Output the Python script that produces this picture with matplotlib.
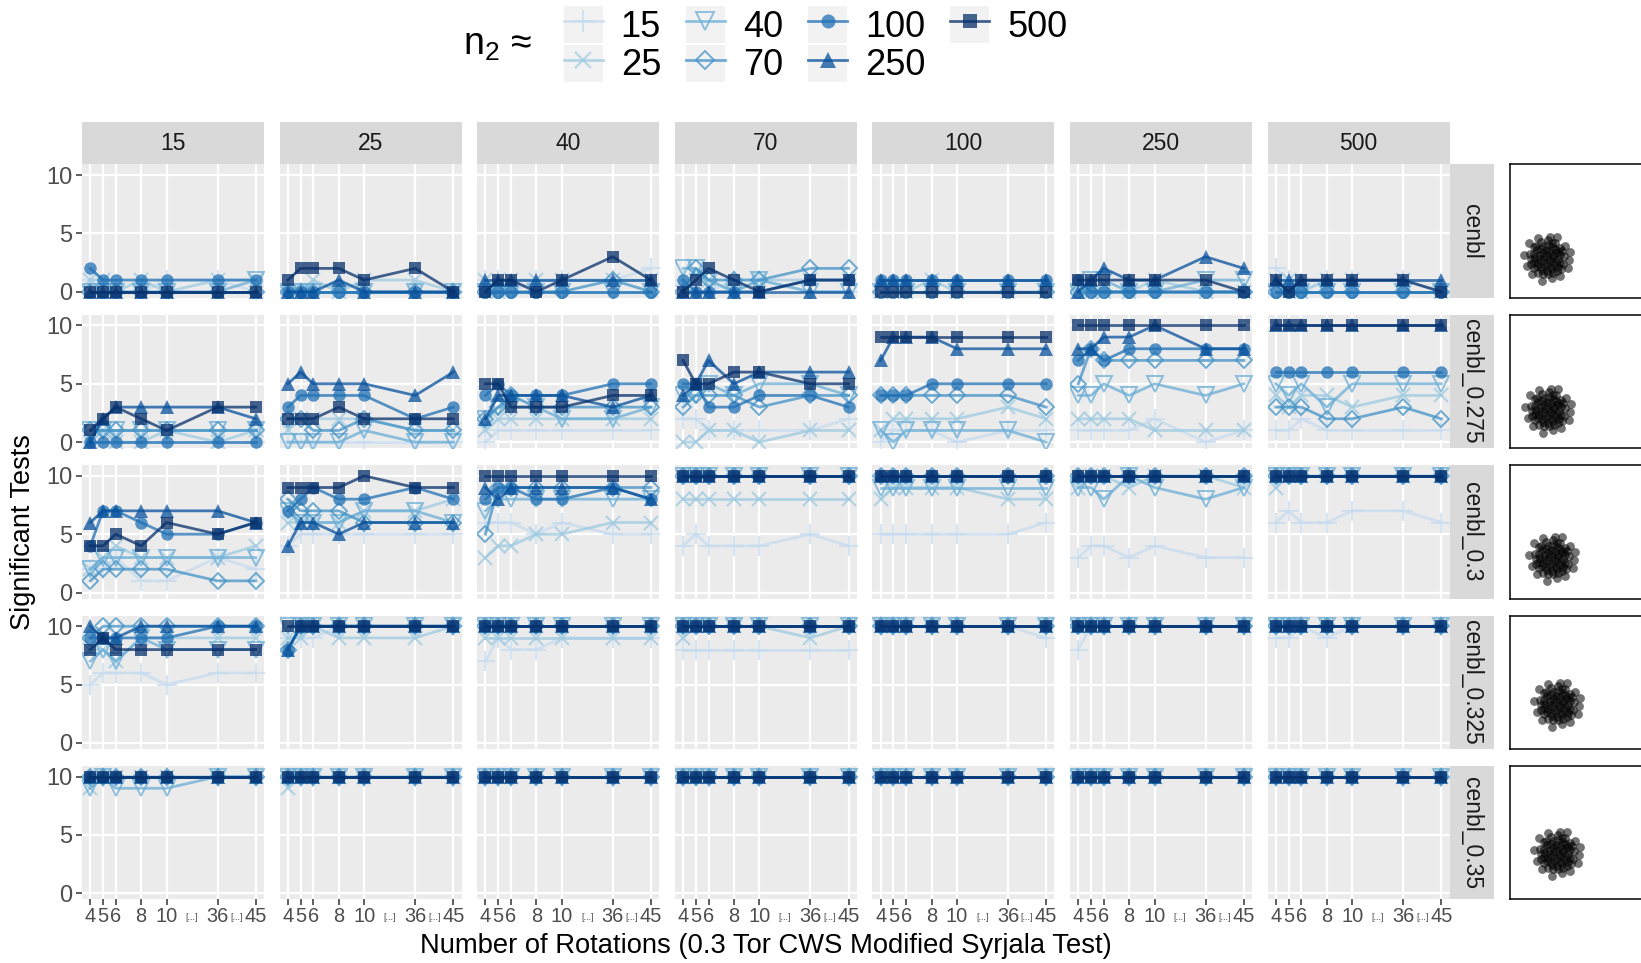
import matplotlib
matplotlib.use('Agg')
import matplotlib.pyplot as plt
from matplotlib.lines import Line2D
from matplotlib.patches import Rectangle
from matplotlib.legend_handler import HandlerLine2D

plt.rcParams['font.family'] = ['Liberation Sans', 'DejaVu Sans']

# ---- data ----
rotations = [4, 5, 6, 8, 10, 36, 45]
n2_levels = ['15', '25', '40', '70', '100', '250', '500']
scenarios = ['cenbl', 'cenbl_0.275', 'cenbl_0.3', 'cenbl_0.325', 'cenbl_0.35']

# one panel = 7 series (n2 = 15 ... 500), each over the 7 rotation counts
cenbl_n15 = [[1, 0, 0, 0, 1, 1, 0], [1, 1, 0, 1, 0, 1, 1], [0, 0, 0, 0, 0, 0, 1], [0, 0, 0, 0, 0, 0, 0],
             [2, 1, 1, 1, 1, 1, 1], [0, 0, 0, 0, 0, 0, 0], [0, 0, 0, 0, 0, 0, 0]]
cenbl_n25 = [[0, 0, 0, 0, 0, 0, 0], [0, 0, 1, 0, 1, 1, 0], [0, 0, 0, 0, 0, 0, 0], [0, 0, 0, 0, 0, 0, 0],
             [0, 0, 0, 0, 0, 0, 0], [0, 0, 0, 1, 0, 0, 0], [1, 2, 2, 2, 1, 2, 0]]
cenbl_n40 = [[1, 1, 0, 1, 1, 1, 2], [1, 0, 1, 1, 1, 1, 1], [0, 0, 0, 0, 0, 0, 0], [0, 0, 0, 0, 0, 1, 0],
             [0, 0, 0, 0, 0, 0, 0], [1, 1, 1, 1, 1, 1, 1], [0, 1, 1, 0, 1, 3, 1]]
cenbl_n70 = [[1, 0, 0, 1, 1, 0, 0], [0, 1, 1, 0, 1, 1, 1], [2, 2, 1, 0, 1, 0, 0], [0, 2, 1, 1, 1, 2, 2],
             [1, 0, 0, 0, 0, 1, 1], [0, 0, 0, 0, 0, 0, 0], [0, 1, 2, 1, 0, 1, 1]]
cenbl_n100 = [[0, 0, 0, 0, 0, 0, 0], [0, 0, 0, 1, 0, 0, 0], [0, 0, 0, 0, 0, 0, 0], [0, 0, 0, 0, 0, 0, 0],
              [1, 1, 1, 1, 1, 1, 1], [1, 1, 1, 1, 1, 1, 1], [0, 0, 0, 0, 0, 0, 0]]
cenbl_n250 = [[0, 0, 0, 0, 0, 0, 0], [0, 0, 0, 0, 1, 0, 0], [0, 1, 1, 0, 0, 1, 1], [0, 0, 0, 0, 0, 0, 0],
              [1, 0, 0, 0, 0, 0, 0], [0, 1, 2, 1, 1, 3, 2], [1, 1, 1, 1, 1, 1, 0]]
cenbl_n500 = [[2, 1, 0, 1, 1, 1, 0], [1, 1, 0, 1, 1, 1, 0], [0, 0, 0, 0, 0, 0, 0], [0, 0, 0, 0, 0, 0, 0],
              [0, 0, 0, 0, 0, 0, 0], [1, 1, 1, 1, 1, 1, 1], [1, 0, 1, 1, 1, 1, 0]]

c275_n15 = [[0, 0, 0, 0, 0, 0, 0], [0, 1, 0, 0, 1, 0, 1], [1, 1, 1, 1, 1, 1, 1], [1, 1, 1, 1, 1, 1, 1],
            [0, 0, 0, 0, 0, 0, 0], [0, 2, 3, 3, 3, 3, 2], [1, 2, 3, 2, 1, 3, 3]]
c275_n25 = [[0, 0, 0, 0, 0, 0, 0], [1, 2, 2, 2, 2, 1, 1], [0, 0, 0, 0, 1, 0, 0], [2, 2, 1, 1, 2, 1, 1],
            [3, 4, 4, 4, 4, 2, 3], [5, 6, 5, 5, 5, 4, 6], [2, 2, 2, 3, 2, 2, 2]]
c275_n40 = [[0, 1, 1, 1, 1, 1, 1], [1, 2, 2, 2, 2, 2, 2], [2, 3, 3, 3, 2, 2, 3], [2, 3, 4, 3, 3, 3, 3],
            [4, 5, 4, 4, 4, 5, 5], [2, 4, 4, 4, 4, 3, 4], [5, 5, 3, 3, 3, 4, 4]]
c275_n70 = [[2, 2, 1, 1, 1, 1, 2], [0, 0, 1, 1, 0, 1, 1], [4, 4, 5, 4, 5, 5, 4], [3, 4, 4, 4, 3, 4, 4],
            [5, 5, 3, 3, 4, 4, 3], [4, 5, 7, 5, 6, 6, 6], [7, 5, 5, 6, 6, 5, 5]]
c275_n100 = [[0, 1, 1, 1, 0, 1, 1], [1, 2, 2, 2, 2, 3, 2], [1, 0, 1, 1, 1, 1, 0], [4, 4, 4, 4, 4, 4, 3],
             [4, 4, 4, 5, 5, 5, 5], [7, 9, 9, 9, 8, 8, 8], [9, 9, 9, 9, 9, 9, 9]]
c275_n250 = [[1, 1, 1, 1, 2, 0, 1], [2, 2, 2, 2, 1, 1, 1], [4, 4, 5, 4, 5, 4, 5], [5, 8, 7, 7, 7, 7, 7],
             [7, 8, 7, 8, 8, 8, 8], [8, 8, 9, 9, 10, 8, 8], [10, 10, 10, 10, 10, 10, 10]]
c275_n500 = [[1, 1, 2, 1, 1, 1, 1], [4, 3, 4, 4, 3, 4, 4], [5, 4, 5, 3, 5, 5, 5], [3, 3, 3, 2, 2, 3, 2],
             [6, 6, 6, 6, 6, 6, 6], [10, 10, 10, 10, 10, 10, 10], [10, 10, 10, 10, 10, 10, 10]]

c300_n15 = [[2, 2, 3, 1, 1, 3, 2], [2, 3, 4, 3, 3, 3, 4], [2, 3, 3, 3, 3, 3, 3], [1, 2, 2, 2, 2, 1, 1],
            [4, 7, 7, 6, 5, 5, 6], [6, 7, 7, 7, 7, 7, 6], [4, 4, 5, 4, 6, 5, 6]]
c300_n25 = [[4, 5, 5, 5, 5, 5, 5], [6, 6, 6, 6, 7, 7, 8], [7, 6, 6, 6, 7, 7, 6], [8, 7, 7, 7, 6, 6, 6],
            [7, 8, 9, 8, 8, 9, 8], [4, 6, 6, 5, 6, 6, 6], [9, 9, 9, 9, 10, 9, 9]]
c300_n40 = [[6, 6, 6, 5, 6, 5, 5], [3, 4, 4, 5, 5, 6, 6], [7, 8, 8, 8, 8, 8, 8], [5, 9, 9, 9, 9, 9, 9],
            [8, 9, 9, 8, 8, 9, 8], [9, 8, 9, 9, 9, 9, 8], [10, 10, 10, 10, 10, 10, 10]]
c300_n70 = [[4, 5, 4, 4, 4, 5, 4], [8, 8, 8, 8, 8, 8, 8], [10, 10, 10, 10, 10, 10, 10], [10, 10, 10, 10, 10, 10, 10],
            [10, 10, 10, 10, 10, 10, 10], [10, 10, 10, 10, 10, 10, 10], [10, 10, 10, 10, 10, 10, 10]]
c300_n100 = [[5, 5, 5, 5, 5, 5, 6], [8, 9, 9, 9, 9, 8, 8], [9, 9, 9, 9, 9, 9, 9], [10, 10, 10, 10, 10, 10, 10],
             [10, 10, 10, 10, 10, 10, 10], [10, 10, 10, 10, 10, 10, 10], [10, 10, 10, 10, 10, 10, 10]]
c300_n250 = [[3, 4, 4, 3, 4, 3, 3], [9, 10, 10, 9, 10, 10, 9], [9, 9, 8, 10, 9, 8, 9], [10, 10, 10, 10, 10, 10, 10],
             [10, 10, 10, 10, 10, 10, 10], [10, 10, 10, 10, 10, 10, 10], [10, 10, 10, 10, 10, 10, 10]]
c300_n500 = [[6, 7, 6, 6, 7, 7, 6], [9, 10, 10, 10, 10, 10, 10], [10, 10, 10, 10, 10, 10, 10], [10, 10, 10, 10, 10, 10, 10],
             [10, 10, 10, 10, 10, 10, 10], [10, 10, 10, 10, 10, 10, 10], [10, 10, 10, 10, 10, 10, 10]]

c325_n15 = [[5, 6, 6, 6, 5, 6, 6], [8, 8, 7, 9, 9, 9, 9], [7, 8, 7, 9, 8, 8, 8], [9, 10, 10, 10, 10, 10, 10],
            [9, 9, 9, 9, 9, 10, 10], [10, 9, 9, 10, 10, 10, 10], [8, 9, 8, 8, 8, 8, 8]]
c325_n25 = [[9, 9, 9, 10, 10, 10, 10], [9, 9, 10, 9, 9, 9, 10], [10, 10, 10, 10, 10, 10, 10], [8, 10, 10, 10, 10, 10, 10],
            [8, 10, 10, 10, 10, 10, 10], [8, 10, 10, 10, 10, 10, 10], [10, 10, 10, 10, 10, 10, 10]]
c325_n40 = [[7, 9, 8, 8, 9, 9, 9], [9, 9, 9, 9, 9, 9, 9], [10, 10, 10, 10, 10, 10, 10], [10, 10, 10, 10, 10, 10, 10],
            [10, 10, 10, 10, 10, 10, 10], [10, 10, 10, 10, 10, 10, 10], [10, 10, 10, 10, 10, 10, 10]]
c325_n70 = [[8, 8, 8, 8, 8, 8, 8], [9, 10, 10, 10, 10, 9, 10], [10, 10, 10, 10, 10, 10, 10], [10, 10, 10, 10, 10, 10, 10],
            [10, 10, 10, 10, 10, 10, 10], [10, 10, 10, 10, 10, 10, 10], [10, 10, 10, 10, 10, 10, 10]]
c325_n100 = [[10, 10, 10, 10, 10, 10, 9], [10, 10, 10, 10, 10, 10, 10], [10, 10, 10, 10, 10, 10, 10], [10, 10, 10, 10, 10, 10, 10],
             [10, 10, 10, 10, 10, 10, 10], [10, 10, 10, 10, 10, 10, 10], [10, 10, 10, 10, 10, 10, 10]]
c325_n250 = [[8, 10, 10, 10, 10, 10, 10], [10, 10, 10, 10, 10, 10, 10], [10, 10, 10, 10, 10, 10, 10], [10, 10, 10, 10, 10, 10, 10],
             [10, 10, 10, 10, 10, 10, 10], [10, 10, 10, 10, 10, 10, 10], [10, 10, 10, 10, 10, 10, 10]]
c325_n500 = [[9, 9, 10, 9, 10, 10, 10], [10, 10, 10, 10, 10, 10, 10], [10, 10, 10, 10, 10, 10, 10], [10, 10, 10, 10, 10, 10, 10],
             [10, 10, 10, 10, 10, 10, 10], [10, 10, 10, 10, 10, 10, 10], [10, 10, 10, 10, 10, 10, 10]]

c350_n15 = [[10, 10, 10, 10, 10, 10, 10], [9, 10, 10, 10, 10, 10, 10], [9, 10, 9, 9, 9, 10, 10], [10, 10, 10, 10, 10, 10, 10],
            [10, 10, 10, 10, 10, 10, 10], [10, 10, 10, 10, 10, 10, 10], [10, 10, 10, 10, 10, 10, 10]]
c350_n25 = [[10, 10, 10, 10, 10, 10, 10], [9, 10, 10, 10, 10, 10, 10], [10, 10, 10, 10, 10, 10, 10], [10, 10, 10, 10, 10, 10, 10],
            [10, 10, 10, 10, 10, 10, 10], [10, 10, 10, 10, 10, 10, 10], [10, 10, 10, 10, 10, 10, 10]]
c350_rest = [[10, 10, 10, 10, 10, 10, 10], [10, 10, 10, 10, 10, 10, 10], [10, 10, 10, 10, 10, 10, 10], [10, 10, 10, 10, 10, 10, 10],
             [10, 10, 10, 10, 10, 10, 10], [10, 10, 10, 10, 10, 10, 10], [10, 10, 10, 10, 10, 10, 10]]

panels = {
    'cenbl': [cenbl_n15, cenbl_n25, cenbl_n40, cenbl_n70, cenbl_n100, cenbl_n250, cenbl_n500],
    'cenbl_0.275': [c275_n15, c275_n25, c275_n40, c275_n70, c275_n100, c275_n250, c275_n500],
    'cenbl_0.3': [c300_n15, c300_n25, c300_n40, c300_n70, c300_n100, c300_n250, c300_n500],
    'cenbl_0.325': [c325_n15, c325_n25, c325_n40, c325_n70, c325_n100, c325_n250, c325_n500],
    'cenbl_0.35': [c350_n15, c350_n25, c350_rest, c350_rest, c350_rest, c350_rest, c350_rest],
}

# inset point cloud (same cloud for every scenario, shifted a little)
cloud_dx = [-4, 1, 5, -10, -6, -1, 3, 8, 11, -13, -8, -4, 0, 5, 9, 13, -12, -7, -3, 2, 6, 11,
            -13, -9, -4, 0, 4, 9, 13, -10, -6, -2, 3, 7, 11, -5, 0, 5,
            17, 15, 13, 8, 5, 1, -6, -11, -13, -17, -16, -16, -13, -9, -4, 1, 6, 10, 14, 16,
            23, 18, 10, 3, -9, -18, -23, -20, -15, -5, 5, 13, 21, 22]
cloud_dy = [12, 13, 11, 8, 9, 8, 7, 9, 7, 4, 3, 5, 4, 3, 5, 3, 0, -1, 1, -1, 1, -1,
            -4, -5, -3, -5, -3, -4, -5, -8, -9, -8, -9, -7, -9, -12, -13, -11,
            2, 7, 10, 15, 15, 18, 16, 12, 11, 4, -1, -6, -10, -15, -16, -16, -15, -13, -11, -6,
            6, 12, 21, 21, 20, 15, 3, -8, -16, -23, -20, -18, -10, -2]
cloud_cx = [37.0, 38.5, 42.5, 47.0, 47.5]
cloud_cy = [40.0, 38.5, 40.5, 45.0, 46.0]

# ---- style ----
colors = ['#C6DBEF', '#9ECAE1', '#6BAED6', '#4292C6', '#2171B5', '#08519C', '#08306B']
markers = ['+', 'x', 'v', 'D', 'o', '^', 's']
msizes = [14, 10.5, 11, 8.2, 9, 10, 9]
rot_pos = [0, 1, 2, 4, 6, 10, 13]   # compressed x scale
gap_pos = [8, 11.5]


def series_style(k, scale=1.0):
    st = dict(color=colors[k], lw=2.0, alpha=0.75, marker=markers[k], ms=msizes[k] * scale)
    if markers[k] in ('+', 'x'):
        st.update(mew=1.5)
    elif markers[k] in ('v', 'D'):
        st.update(mfc='none', mew=1.4)
    else:
        st.update(mew=0)
    return st


class KeyBox(HandlerLine2D):
    def create_artists(self, legend, orig_handle, xdescent, ydescent, width, height, fontsize, trans):
        bg = Rectangle((-xdescent, -ydescent), width, height, facecolor='#F2F2F2',
                       edgecolor='none', transform=trans)
        arts = super().create_artists(legend, orig_handle, xdescent, ydescent, width, height, fontsize, trans)
        return [bg] + list(arts)


W, H = 1641, 963
fig = plt.figure(figsize=(W / 100, H / 100), dpi=100)


def rect(left, top, width, height):
    return [left / W, 1 - (top + height) / H, width / W, height / H]


pan_left, pitch_x, pan_w = 82.0, 197.6, 182.0
pan_top, pitch_y, pan_h = 164.3, 150.4, 133.5
nrow, ncol = len(scenarios), len(n2_levels)

for r, scen in enumerate(scenarios):
    for c, lev in enumerate(n2_levels):
        ax = fig.add_axes(rect(pan_left + c * pitch_x, pan_top + r * pitch_y, pan_w, pan_h))
        ax.set_facecolor('#EBEBEB')
        for sp in ax.spines.values():
            sp.set_visible(False)
        ax.grid(True, which='major', color='white', lw=1.6)
        ax.set_axisbelow(True)
        for k, vals in enumerate(panels[scen][c]):
            ax.plot(rot_pos, vals, **series_style(k))
        ax.set_xlim(-0.65, 13.65)
        ax.set_ylim(-0.52, 10.92)
        ax.set_yticks([0, 5, 10])
        ax.set_xticks(rot_pos)
        ax.set_xticks(gap_pos, minor=True)
        if r == nrow - 1:
            ax.set_xticklabels([str(v) for v in rotations])
            ax.set_xticklabels(['[...]', '[...]'], minor=True)
            ax.tick_params(axis='x', which='major', length=4.3, width=1.1, color='#333333',
                           labelsize=14.4, labelcolor='#4D4D4D', pad=1.5)
            ax.tick_params(axis='x', which='minor', length=0, labelsize=6.5,
                           labelcolor='#4D4D4D', pad=9.5)
        else:
            ax.tick_params(axis='x', which='both', length=0, labelbottom=False)
        if c == 0:
            ax.tick_params(axis='y', length=4.3, width=1.1, color='#333333',
                           labelsize=17, labelcolor='#4D4D4D', pad=2.5)
        else:
            ax.tick_params(axis='y', length=0, labelleft=False)

        if r == 0:
            sax = fig.add_axes(rect(pan_left + c * pitch_x, 122, pan_w, pan_top - 122))
            sax.set_facecolor('#D9D9D9')
            sax.set_xticks([]); sax.set_yticks([])
            for sp in sax.spines.values():
                sp.set_visible(False)
            sax.text(0.5, 0.5, lev, ha='center', va='center', fontsize=16.5,
                     color='#1A1A1A', transform=sax.transAxes)

    # right strip
    rx = pan_left + (ncol - 1) * pitch_x + pan_w
    sax = fig.add_axes(rect(rx, pan_top + r * pitch_y, 44, pan_h))
    sax.set_facecolor('#D9D9D9')
    sax.set_xticks([]); sax.set_yticks([])
    for sp in sax.spines.values():
        sp.set_visible(False)
    sax.text(0.5, 0.5, scen, ha='center', va='center', rotation=270, fontsize=16.5,
             color='#1A1A1A', transform=sax.transAxes)

    # inset cloud
    iax = fig.add_axes(rect(1509.5, pan_top + r * pitch_y, pan_h, pan_h))
    iax.set_facecolor('white')
    for sp in iax.spines.values():
        sp.set_color('black')
        sp.set_linewidth(1.1)
    iax.set_xticks([]); iax.set_yticks([])
    iax.set_xlim(0, pan_h)
    iax.set_ylim(0, pan_h)
    iax.scatter([cloud_cx[r] + d for d in cloud_dx], [cloud_cy[r] + d for d in cloud_dy],
                s=40, c='black', alpha=0.55, linewidths=0)

# axis titles
fig.text(766 / W, 1 - 946 / H, 'Number of Rotations (0.3 Tor CWS Modified Syrjala Test)',
         ha='center', va='center', fontsize=19.7)
fig.text(23 / W, 1 - 532 / H, 'Significant Tests', ha='center', va='center',
         rotation=90, fontsize=19.5)

# legend
handles = [Line2D([], [], **series_style(k, 1.12)) for k in range(len(n2_levels))]
fig.legend(handles, n2_levels, loc='upper left', bbox_to_anchor=(563.6 / W, 1 - 6 / H),
           ncol=4, frameon=False, fontsize=26, handlelength=1.08, handleheight=1.2,
           handletextpad=0.5, columnspacing=0.69, labelspacing=0, borderpad=0,
           borderaxespad=0, numpoints=1, handler_map={Line2D: KeyBox()})
fig.text(463 / W, 1 - 45 / H, r'$\mathregular{n_2}$ ≈', ha='left', va='center', fontsize=27)

fig.savefig('out.png', dpi=100)
